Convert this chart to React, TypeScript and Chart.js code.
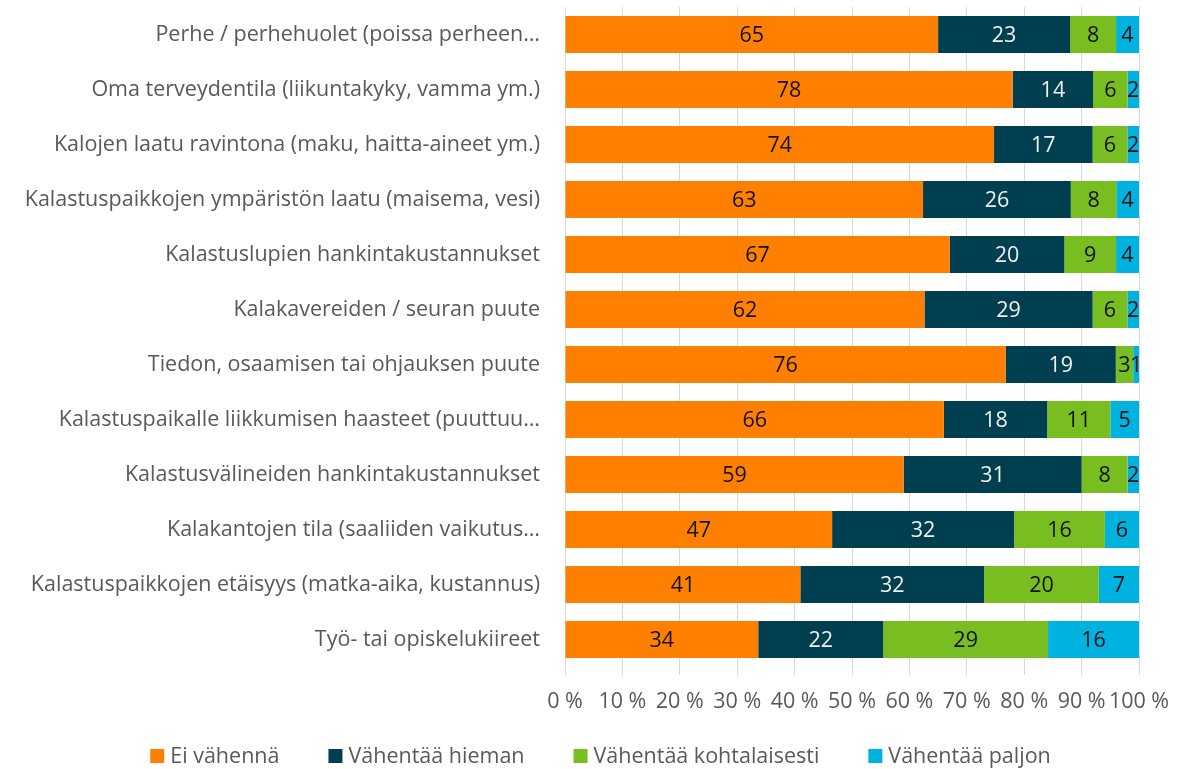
import React, { useEffect, useRef } from "react";
import { Chart, registerables } from "chart.js";

Chart.register(...registerables);

const categories = [
  "Perhe / perhehuolet (poissa perheen…",
  "Oma terveydentila (liikuntakyky, vamma ym.)",
  "Kalojen laatu ravintona (maku, haitta-aineet ym.)",
  "Kalastuspaikkojen ympäristön laatu (maisema, vesi)",
  "Kalastuslupien hankintakustannukset",
  "Kalakavereiden / seuran puute",
  "Tiedon, osaamisen tai ohjauksen puute",
  "Kalastuspaikalle liikkumisen haasteet (puuttuu…",
  "Kalastusvälineiden hankintakustannukset",
  "Kalakantojen tila (saaliiden vaikutus…",
  "Kalastuspaikkojen etäisyys (matka-aika, kustannus)",
  "Työ- tai opiskelukiireet",
];

const eiVahenna = [65, 78, 74, 63, 67, 62, 76, 66, 59, 47, 41, 34];
const vahentaaHieman = [23, 14, 17, 26, 20, 29, 19, 18, 31, 32, 32, 22];
const vahentaaKohtalaisesti = [8, 6, 6, 8, 9, 6, 3, 11, 8, 16, 20, 29];
const vahentaaPaljon = [4, 2, 2, 4, 4, 2, 1, 5, 2, 6, 7, 16];

const seriesNames = ["Ei vähennä", "Vähentää hieman", "Vähentää kohtalaisesti", "Vähentää paljon"];
const seriesColors = ["#FF8000", "#003F4F", "#78BE20", "#00B2E0"];
const labelColors = ["#111111", "#F0F0F0", "#111111", "#111111"];

const xTickValues = [0, 10, 20, 30, 40, 50, 60, 70, 80, 90, 100];

const FONT = "'Open Sans', 'Noto Sans', sans-serif";
const FS = 21.5;

export default function App() {
  const ref = useRef<HTMLCanvasElement | null>(null);

  useEffect(() => {
    document.body.style.margin = "0";
    const raw = [eiVahenna, vahentaaHieman, vahentaaKohtalaisesti, vahentaaPaljon];
    const totals = categories.map((_, i) => raw.reduce((s, arr) => s + arr[i], 0));
    const datasets = raw.map((arr, k) => ({
      label: seriesNames[k],
      data: arr.map((v, i) => (v / totals[i]) * 100),
      rawValues: arr,
      backgroundColor: seriesColors[k],
      borderWidth: 0,
      categoryPercentage: 1,
      barPercentage: 37 / 55,
    }));

    const valueLabels = {
      id: "valueLabels",
      afterDatasetsDraw(chart: any) {
        const ctx = chart.ctx;
        ctx.save();
        ctx.font = `${FS}px ${FONT}`;
        ctx.textAlign = "center";
        ctx.textBaseline = "middle";
        chart.data.datasets.forEach((ds: any, k: number) => {
          const meta = chart.getDatasetMeta(k);
          meta.data.forEach((bar: any, i: number) => {
            const x = (bar.x + bar.base) / 2;
            ctx.fillStyle = labelColors[k];
            ctx.fillText(String(ds.rawValues[i]), x, bar.y + 1);
          });
        });
        ctx.restore();
      },
    };

    const customLegend = {
      id: "customLegend",
      afterDraw(chart: any) {
        const ctx = chart.ctx;
        ctx.save();
        ctx.font = `${FS}px ${FONT}`;
        ctx.textBaseline = "middle";
        const box = 14;
        const gapBoxText = 6;
        const gapItems = 49;
        const widths = seriesNames.map((n) => box + gapBoxText + ctx.measureText(n).width);
        const total = widths.reduce((a, b) => a + b, 0) + gapItems * (widths.length - 1);
        let x = (chart.width - total) / 2 + 11;
        const y = 756;
        seriesNames.forEach((n, k) => {
          ctx.fillStyle = seriesColors[k];
          ctx.fillRect(x, y - box / 2, box, box);
          ctx.fillStyle = "#595959";
          ctx.textAlign = "left";
          ctx.fillText(n, x + box + gapBoxText, y + 1);
          x += widths[k] + gapItems;
        });
        ctx.restore();
      },
    };

    const chart = new Chart(ref.current as HTMLCanvasElement, {
      type: "bar",
      data: { labels: categories, datasets: datasets as any },
      options: {
        indexAxis: "y",
        animation: false,
        responsive: false,
        maintainAspectRatio: false,
        layout: { padding: { top: 7, right: 40, left: 0, bottom: 0 } },
        plugins: {
          legend: { display: false },
          tooltip: { enabled: false },
        },
        scales: {
          x: {
            stacked: true,
            min: 0,
            max: 100,
            afterBuildTicks: (scale: any) => {
              scale.ticks = xTickValues.map((v) => ({ value: v }));
            },
            afterFit: (scale: any) => {
              scale.height = 102;
              scale.paddingRight = 0;
              scale.paddingLeft = 0;
            },
            ticks: {
              autoSkip: false,
              maxRotation: 0,
              minRotation: 0,
              padding: 14,
              color: "#595959",
              font: { family: FONT, size: FS },
              callback: (v: any) => `${v} %`,
            },
            grid: {
              color: "#D9D9D9",
              lineWidth: 1,
              drawTicks: true,
              tickLength: 8,
            },
            border: { display: false },
          },
          y: {
            stacked: true,
            afterFit: (scale: any) => {
              scale.width = 565;
            },
            ticks: {
              padding: 0,
              color: "#595959",
              font: { family: FONT, size: FS, lineHeight: 0.6 },
              autoSkip: false,
            },
            grid: {
              display: true,
              drawOnChartArea: false,
              drawTicks: true,
              tickLength: 25,
              color: "rgba(0,0,0,0)",
            },
            border: { display: false },
          },
        },
      },
      plugins: [valueLabels, customLegend],
    });
    return () => chart.destroy();
  }, []);

  return (
    <div style={{ width: 1179, height: 769 }}>
      <canvas ref={ref} width={1179} height={769} style={{ display: "block" }} />
    </div>
  );
}
